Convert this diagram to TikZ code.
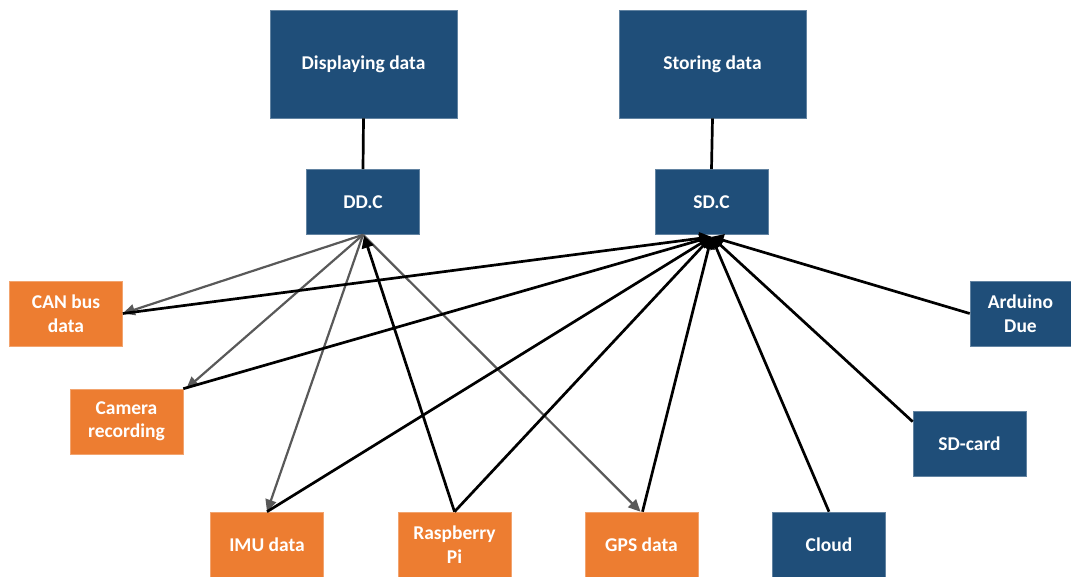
\documentclass[tikz,border=0pt]{standalone}
\usepackage{fontspec}
\setmainfont{Carlito}
\usetikzlibrary{arrows.meta,calc}
\definecolor{navy}{HTML}{1F4E79}
\definecolor{amber}{HTML}{ED7D31}
\definecolor{linkgray}{HTML}{595959}
\tikzset{
  box/.style={rectangle, inner sep=2pt, align=center, text=white,
    font=\bfseries\fontsize{19.5}{23.5}\selectfont,
    minimum width=113pt, minimum height=65pt},
  bluebox/.style={box, fill=navy, draw=navy!70!white, line width=0.6pt},
  orangebox/.style={box, fill=amber, draw=amber!70!white, line width=0.6pt},
  bigbox/.style={bluebox, minimum width=187pt, minimum height=108pt},
  link/.style={line width=2.7pt, black},
  feed/.style={link, -{Triangle[length=12pt,width=12pt]}},
  show/.style={line width=2.2pt, linkgray, -{Triangle[length=12pt,width=11pt]}}
}
\begin{document}
\begin{tikzpicture}[x=1pt,y=-1pt]
\useasboundingbox (0,0) rectangle (1071,577);

% top level
\node[bigbox] (disp) at (363.5,64) {Displaying data};
\node[bigbox] (stor) at (712.5,64) {Storing data};

% controllers
\node[bluebox] (ddc) at (363,202) {DD.C};
\node[bluebox] (sdc) at (711.5,202) {SD.C};

% data sources
\node[orangebox] (can) at (66,313.5) {CAN bus\\data};
\node[orangebox] (cam) at (126.5,421.5) {Camera\\recording};
\node[orangebox] (imu) at (267,544.5) {IMU data};
\node[orangebox] (rpi) at (454.5,544.5) {Raspberry\\Pi};
\node[orangebox] (gps) at (641.5,544.5) {GPS data};
\node[bluebox] (cloud) at (829,544.5) {Cloud};
\node[bluebox] (sdcard) at (969.5,443.5) {SD-card};
\node[bluebox, minimum width=101pt] (due) at (1020.5,313.5) {Arduino\\Due};

\coordinate (ddin) at ($(ddc.south)+(1,1)$);
\coordinate (sdin) at ($(sdc.south)+(0,2)$);
\coordinate (sdcardin) at ($(sdcard.north west)+(0,11)$);

% hierarchy
\draw[link] (disp.south) -- (ddc.north);
\draw[link] (stor.south) -- (sdc.north);

% display controller outputs
\draw[show] (ddc.south) -- (can.east);
\draw[show] (ddc.south) -- ($(cam.north east)+(3,0)$);
\draw[show] (ddc.south) -- (imu.north);
\draw[show] (ddc.south) -- ($(gps.north)+(-1,0)$);
\draw[feed] (rpi.north) -- (ddin);

% storage controller inputs
\draw[feed] (can.east) -- (sdin);
\draw[feed] (cam.north east) -- (sdin);
\draw[feed] (imu.north) -- (sdin);
\draw[feed] (rpi.north) -- (sdin);
\draw[feed] ($(gps.north)+(1,0)$) -- (sdin);
\draw[feed] (cloud.north) -- (sdin);
\draw[feed] (sdcardin) -- (sdin);
\draw[feed] (due.west) -- (sdin);
\end{tikzpicture}
\end{document}
